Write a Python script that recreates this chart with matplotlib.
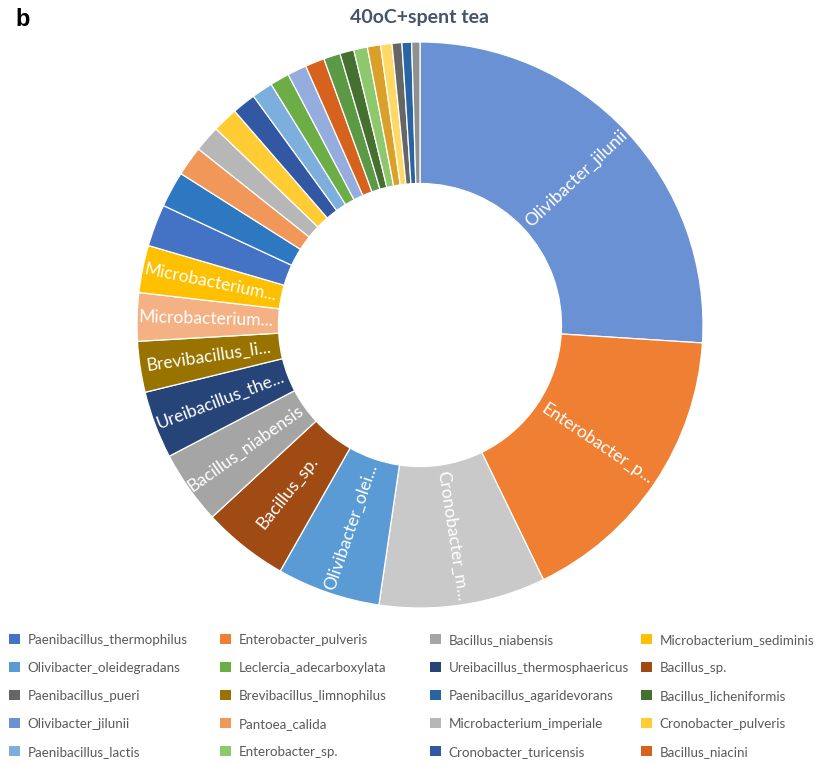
import matplotlib
matplotlib.use("Agg")
import matplotlib.pyplot as plt
from matplotlib.patches import Patch
import math

# ---------------- data (pie order, clockwise from 12 o'clock) ----------------
slice_taxa = [
    "Olivibacter_jilunii", "Enterobacter_pulveris", "Cronobacter_m...",
    "Olivibacter_oleidegradans", "Bacillus_sp.", "Bacillus_niabensis",
    "Ureibacillus_thermosphaericus", "Brevibacillus_limnophilus",
    "Microbacterium...", "Microbacterium_sediminis",
    "Paenibacillus_thermophilus", "unlisted_a", "Pantoea_calida",
    "Microbacterium_imperiale", "Cronobacter_pulveris", "Cronobacter_turicensis",
    "Paenibacillus_lactis", "Leclercia_adecarboxylata", "unlisted_b",
    "Bacillus_niacini", "unlisted_c", "Bacillus_licheniformis", "Enterobacter_sp.",
    "unlisted_d", "unlisted_e", "Paenibacillus_pueri",
    "Paenibacillus_agaridevorans", "unlisted_f",
]
slice_values = [
    26.0, 16.8, 9.5, 5.9, 4.9, 4.2, 3.85, 2.9, 2.75, 2.7,
    2.4, 2.05, 1.7, 1.5, 1.45, 1.35, 1.2, 1.1, 1.1, 1.1,
    0.95, 0.8, 0.78, 0.75, 0.65, 0.56, 0.55, 0.47,
]
slice_labels = [
    "Olivibacter_jilunii", "Enterobacter_p...", "Cronobacter_m...",
    "Olivibacter_olei...", "Bacillus_sp.", "Bacillus_niabensis",
    "Ureibacillus_the...", "Brevibacillus_li...", "Microbacterium...",
    "Microbacterium...",
] + [""] * 18
slice_colors = [
    "#6A91D4", "#EF8033", "#C9C9C9", "#5B9BD5", "#A04A14", "#A5A5A5",
    "#264478", "#997300", "#F4B183", "#FFC000",
    "#4472C4", "#2E78C2", "#F1975A", "#B7B7B7", "#FFCD33", "#3358A3",
    "#7CAFDD", "#6CAD46", "#95ACDE", "#D6621E", "#5C9944", "#467030",
    "#8DC86C", "#D9A12A", "#FFD966", "#666666", "#2A65A3", "#909090",
]

legend_names = [
    "Paenibacillus_thermophilus", "Enterobacter_pulveris", "Bacillus_niabensis",
    "Microbacterium_sediminis", "Olivibacter_oleidegradans",
    "Leclercia_adecarboxylata", "Ureibacillus_thermosphaericus", "Bacillus_sp.",
    "Paenibacillus_pueri", "Brevibacillus_limnophilus",
    "Paenibacillus_agaridevorans", "Bacillus_licheniformis", "Olivibacter_jilunii",
    "Pantoea_calida", "Microbacterium_imperiale", "Cronobacter_pulveris",
    "Paenibacillus_lactis", "Enterobacter_sp.", "Cronobacter_turicensis",
    "Bacillus_niacini",
]

title = "40oC+spent tea"
panel = "b"

# ---------------- figure ----------------
W, H = 826, 764
fig = plt.figure(figsize=(W / 100, H / 100), dpi=100)
fig.patch.set_facecolor("white")

cx, cy, R = 420, 325, 283
ax = fig.add_axes([(cx - R) / W, 1 - (cy + R) / H, 2 * R / W, 2 * R / H])

wedges, _ = ax.pie(
    slice_values, colors=slice_colors, startangle=90, counterclock=False,
    radius=1.0, wedgeprops=dict(width=0.5, edgecolor="white", linewidth=0.9),
)
ax.set_xlim(-1, 1)
ax.set_ylim(-1, 1)
ax.axis("off")

for w, lab in zip(wedges, slice_labels):
    if not lab:
        continue
    ang = (w.theta1 + w.theta2) / 2.0
    x = 0.755 * math.cos(math.radians(ang))
    y = 0.755 * math.sin(math.radians(ang))
    rot = ((ang + 180) % 360) - 180
    if rot > 90:
        rot -= 180
    elif rot < -90:
        rot += 180
    ax.text(x, y, lab, rotation=rot, rotation_mode="anchor", ha="center",
            va="center", color="white", fontsize=12.6, family="Lato")

fig.text(cx / W, 1 - 18 / H, title, ha="center", va="center", fontsize=14,
         fontweight="bold", color="#44546A", family="Lato")
fig.text(15 / W, 1 - 19 / H, panel, ha="left", va="center", fontsize=17,
         fontweight="bold", color="black", family="Liberation Sans")

# ---------------- legend: 4 columns, row-major ----------------
color_of = dict(zip(slice_taxa, slice_colors))
col_x = [9, 220, 430, 641]
ncol = 4
for c in range(ncol):
    names = legend_names[c::ncol]
    handles = [Patch(facecolor=color_of[n], edgecolor="none") for n in names]
    leg = fig.legend(
        handles, names, loc="upper left",
        bbox_to_anchor=(col_x[c] / W, 1 - 634 / H),
        frameon=False, borderpad=0, borderaxespad=0,
        handlelength=0.8, handleheight=0.8, handletextpad=0.6,
        labelspacing=1.2, prop=dict(family="Lato", size=9.6),
    )
    for t in leg.get_texts():
        t.set_color("#595959")

fig.savefig("out.png", dpi=100, facecolor="white")
